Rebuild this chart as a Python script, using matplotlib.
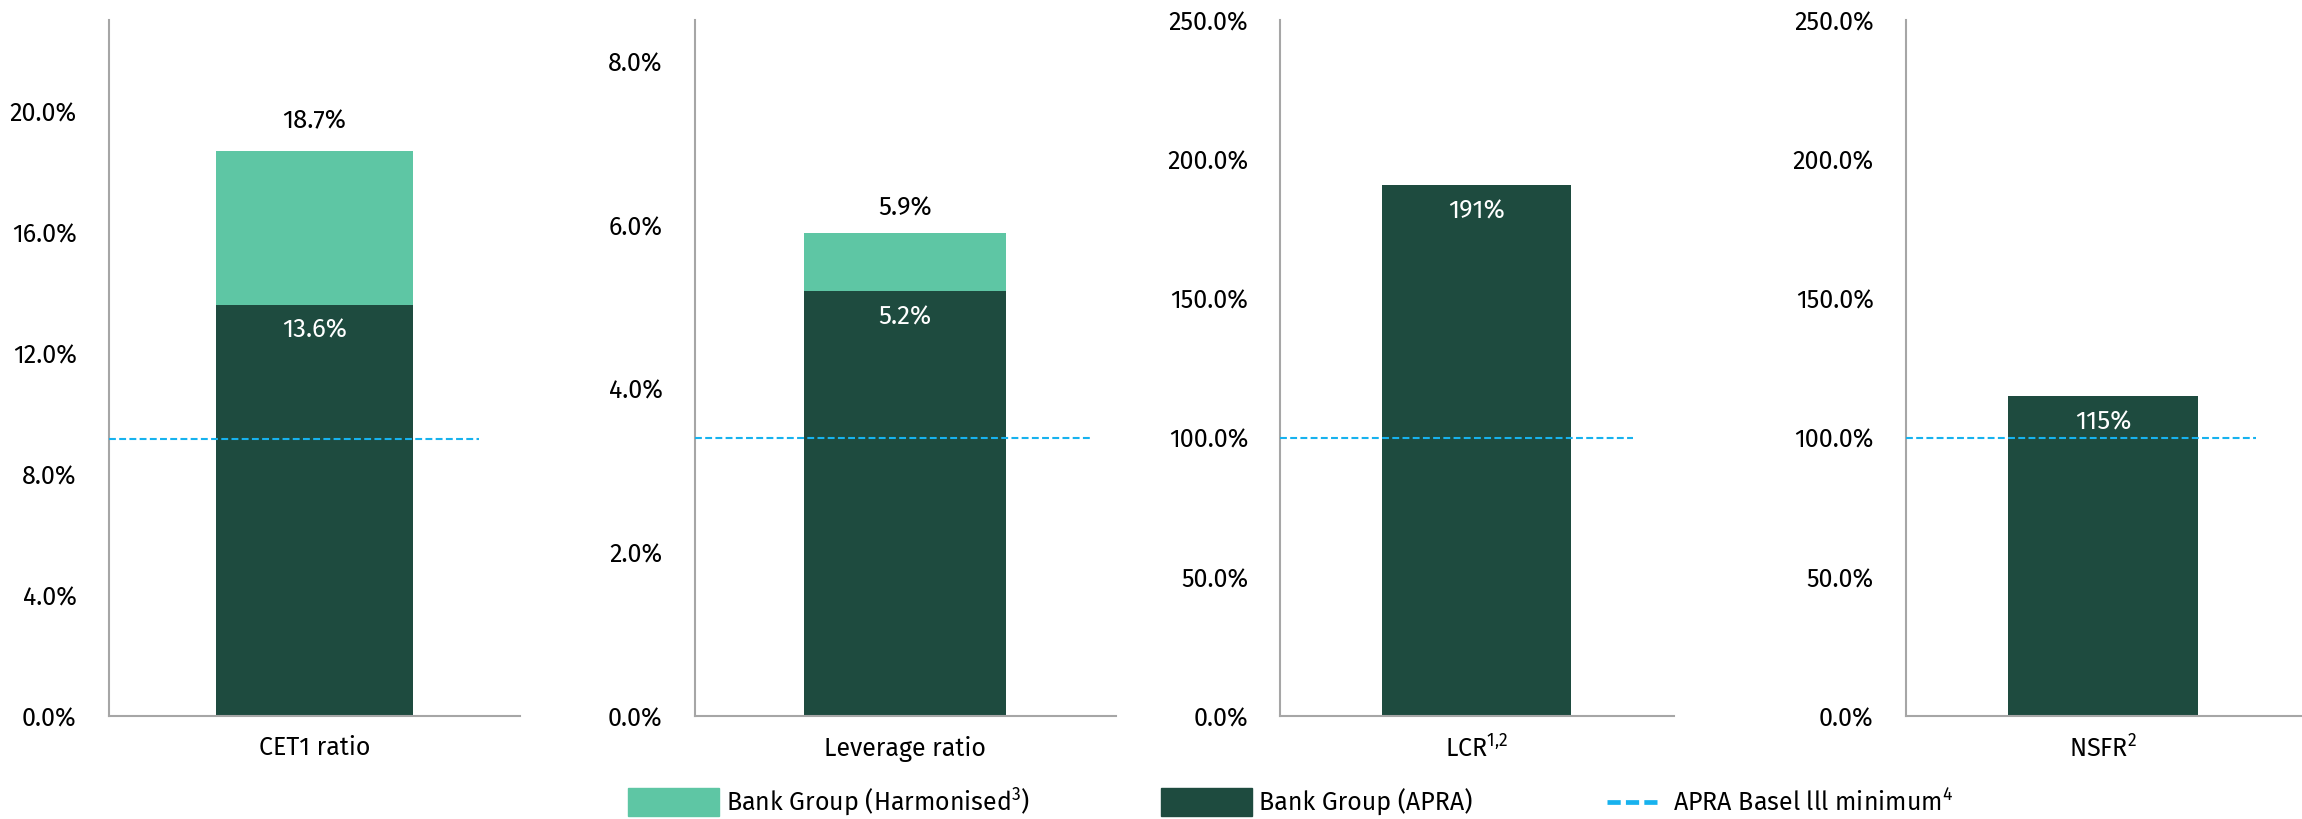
import matplotlib
matplotlib.use("Agg")
import matplotlib.pyplot as plt
from matplotlib import font_manager as fm
from matplotlib.patches import Patch
from matplotlib.lines import Line2D

# values
metrics = ["CET1 ratio", "Leverage ratio", "LCR$^{1{,}2}$", "NSFR$^{2}$"]
apra = [13.6, 5.2, 191, 115]
harmonised = [18.7, 5.9, None, None]
minimum = [9.15, 3.4, 100, 100]
apra_labels = ["13.6%", "5.2%", "191%", "115%"]
harm_labels = ["18.7%", "5.9%", None, None]
yticks = [
    [0, 4, 8, 12, 16, 20],
    [0, 2, 4, 6, 8],
    [0, 50, 100, 150, 200, 250],
    [0, 50, 100, 150, 200, 250],
]
y_top = [23.0, 8.5, 250, 250]

DARK = "#1E4B3F"
MINT = "#5EC6A4"
CYAN = "#17B2EE"
GREY = "#A6A6A6"

# one humanist sans for everything, like the reference
available = {f.name for f in fm.fontManager.ttflist}
font_name = next((n for n in ["Fira Sans", "Source Sans 3", "Source Sans Pro",
                              "Open Sans"] if n in available), "DejaVu Sans")
FONT = [font_name, "DejaVu Sans"]
plt.rcParams["font.family"] = FONT
plt.rcParams["mathtext.fontset"] = "custom"
plt.rcParams["mathtext.rm"] = font_name

# layout (figure fractions)
panel_x = [(0.0472, 0.2258), (0.3017, 0.4847), (0.5561, 0.7270), (0.8278, 0.9994)]
dash_end = [0.9, 0.944, 0.896, 0.888]
above_off = [21, 18]
inside_off = [18, 19, 19, 19]
bottom, top = 0.1254, 0.975
FS = 18
FS_VAL = 18.5

fig = plt.figure(figsize=(23.02, 8.19), dpi=100)

for i in range(4):
    x0, x1 = panel_x[i]
    ax = fig.add_axes([x0, bottom, x1 - x0, top - bottom])

    ax.bar(0, apra[i], width=0.48, color=DARK, zorder=2)
    if harmonised[i] is not None:
        ax.bar(0, harmonised[i] - apra[i], bottom=apra[i], width=0.48,
               color=MINT, zorder=2)
        ax.annotate(harm_labels[i], (0, harmonised[i]), xytext=(0, above_off[i]),
                    textcoords="offset points", ha="center", va="center",
                    fontsize=FS_VAL, color="black")
    ax.annotate(apra_labels[i], (0, apra[i]), xytext=(0, -inside_off[i]),
                textcoords="offset points", ha="center", va="center",
                fontsize=FS_VAL, color="white", zorder=4)

    ax.axhline(minimum[i], xmin=0, xmax=dash_end[i], color=CYAN, lw=1.5,
               linestyle=(0, (3.3, 1.6)), zorder=3)

    ax.set_xlim(-0.5, 0.5)
    ax.set_ylim(0, y_top[i])
    ax.set_yticks(yticks[i])
    ax.set_yticklabels([f"{v:.1f}%" for v in yticks[i]], fontsize=FS)
    ax.set_xticks([0])
    ax.set_xticklabels([metrics[i]], fontsize=FS)
    ax.tick_params(axis="y", length=0, pad=23)
    ax.tick_params(axis="x", length=0, pad=14)

    for side in ["top", "right"]:
        ax.spines[side].set_visible(False)
    for side in ["left", "bottom"]:
        ax.spines[side].set_color(GREY)
        ax.spines[side].set_linewidth(1.5)

# legend, three pieces placed like the reference
leg_kw = dict(loc="center left", frameon=False, borderpad=0, borderaxespad=0,
              prop={"size": FS})
fig.legend(handles=[Patch(color=MINT, label="Bank Group (Harmonised$^{3}$)")],
           bbox_to_anchor=(0.2728, 0.0205), handlelength=3.65, handleheight=1.36,
           handletextpad=0.28, **leg_kw)
fig.legend(handles=[Patch(color=DARK, label="Bank Group (APRA)")],
           bbox_to_anchor=(0.5043, 0.0205), handlelength=3.65, handleheight=1.36,
           handletextpad=0.28, **leg_kw)
fig.legend(handles=[Line2D([], [], color=CYAN, lw=3.4, dashes=(2.8, 1.1),
                           label="APRA Basel lll minimum$^{4}$")],
           bbox_to_anchor=(0.698, 0.0205), handlelength=2.0, handletextpad=0.64,
           **leg_kw)

fig.savefig("out.png", dpi=100)
